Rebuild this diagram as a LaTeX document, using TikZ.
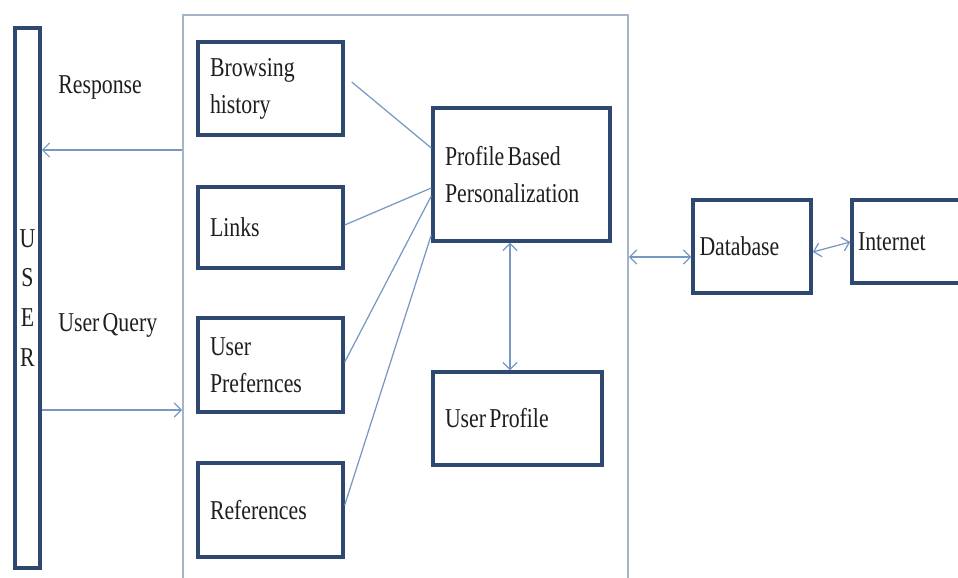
\documentclass[tikz,border=0pt]{standalone}
\usepackage{fontspec}
\setmainfont{Liberation Serif}[FakeStretch=0.8,WordSpace=0.6]
\usetikzlibrary{arrows.meta}
\definecolor{boxc}{RGB}{47,72,112}
\definecolor{linec}{RGB}{120,152,196}
\definecolor{contc}{RGB}{165,180,200}
\definecolor{txtc}{RGB}{30,30,30}
\begin{document}
\begin{tikzpicture}[x=0.02cm,y=-0.02cm,
  every node/.style={text=txtc,font=\fontsize{15.5}{21}\selectfont},
  bx/.style={draw=boxc,line width=2pt,rectangle,align=flush left,inner xsep=0.24cm,inner ysep=0pt},
  ln/.style={draw=linec,line width=0.7pt},
  arr/.style={ln,-{Straight Barb[length=4pt,width=8pt]}},
  darr/.style={ln,{Straight Barb[length=4pt,width=8pt]}-{Straight Barb[length=4pt,width=8pt]}},
  lbl/.style={anchor=west,inner sep=0pt}]
\useasboundingbox (0,0) rectangle (958,578);
\clip (0,0) rectangle (958,578);
\fill[white] (0,0) rectangle (958,578);

% container
\node[draw=contc,line width=1pt,minimum width=8.9cm,minimum height=11.7cm,inner sep=0pt] (cont) at (405.5,307.5) {};

% user
\node[bx,align=center,minimum width=0.5cm,minimum height=10.8cm,inner xsep=0pt,font=\fontsize{15.5}{22.7}\selectfont] (user) at (27.5,298) {U\\S\\E\\R};

% left boxes
\node[bx,minimum width=2.9cm,minimum height=1.86cm,text width=2.42cm] (bh) at (270.5,88.5) {Browsing\\history};
\node[bx,minimum width=2.9cm,minimum height=1.62cm,text width=2.42cm] (links) at (270.5,227.5) {Links};
\node[bx,minimum width=2.9cm,minimum height=1.88cm,text width=2.42cm] (pref) at (270.5,365) {User\\Prefernces};
\node[bx,minimum width=2.9cm,minimum height=1.88cm,text width=2.42cm] (refs) at (270.5,510) {References};

% center boxes
\node[bx,minimum width=3.54cm,minimum height=2.66cm,text width=3.06cm] (pbp) at (521.5,174.5) {Profile Based\\Personalization};
\node[bx,minimum width=3.38cm,minimum height=1.86cm,text width=2.9cm] (up) at (517.5,418.5) {User Profile};

% right boxes
\node[bx,minimum width=2.36cm,minimum height=1.86cm,text width=2.1cm,inner xsep=0.13cm] (db) at (752,246.5) {Database};
\node[bx,minimum width=2.4cm,minimum height=1.66cm,text width=2.16cm,inner xsep=0.12cm] (inet) at (912,241.5) {Internet};

% labels
\node[lbl] (resp) at (58,87) {Response};
\node[lbl] (uq) at (58,325) {User Query};

% arrows user <-> container
\draw[arr] (cont.west |- 0,150) -- (user.east |- 0,150);
\draw[arr] (user.east |- 0,410) -- (cont.west |- 0,410);

% lines to PBP
\draw[ln] ([shift={(7,-6.5)}]bh.east) -- (pbp.west |- 0,148);
\draw[ln] ([shift={(0,-2.5)}]links.east) -- (pbp.west |- 0,188);
\draw[ln] ([shift={(0,-3)}]pref.east) -- (pbp.west |- 0,196);
\draw[ln] ([shift={(0,-5)}]refs.east) -- (pbp.west |- 0,235);

% PBP <-> UP
\draw[darr] (pbp.south -| 510,0) -- (up.north -| 510,0);

% container <-> DB, DB <-> Internet
\draw[darr] (cont.east |- 0,257) -- (db.west |- 0,257);
\draw[darr] (db.east |- 0,252) -- (inet.west |- 0,242);
\end{tikzpicture}
\end{document}
